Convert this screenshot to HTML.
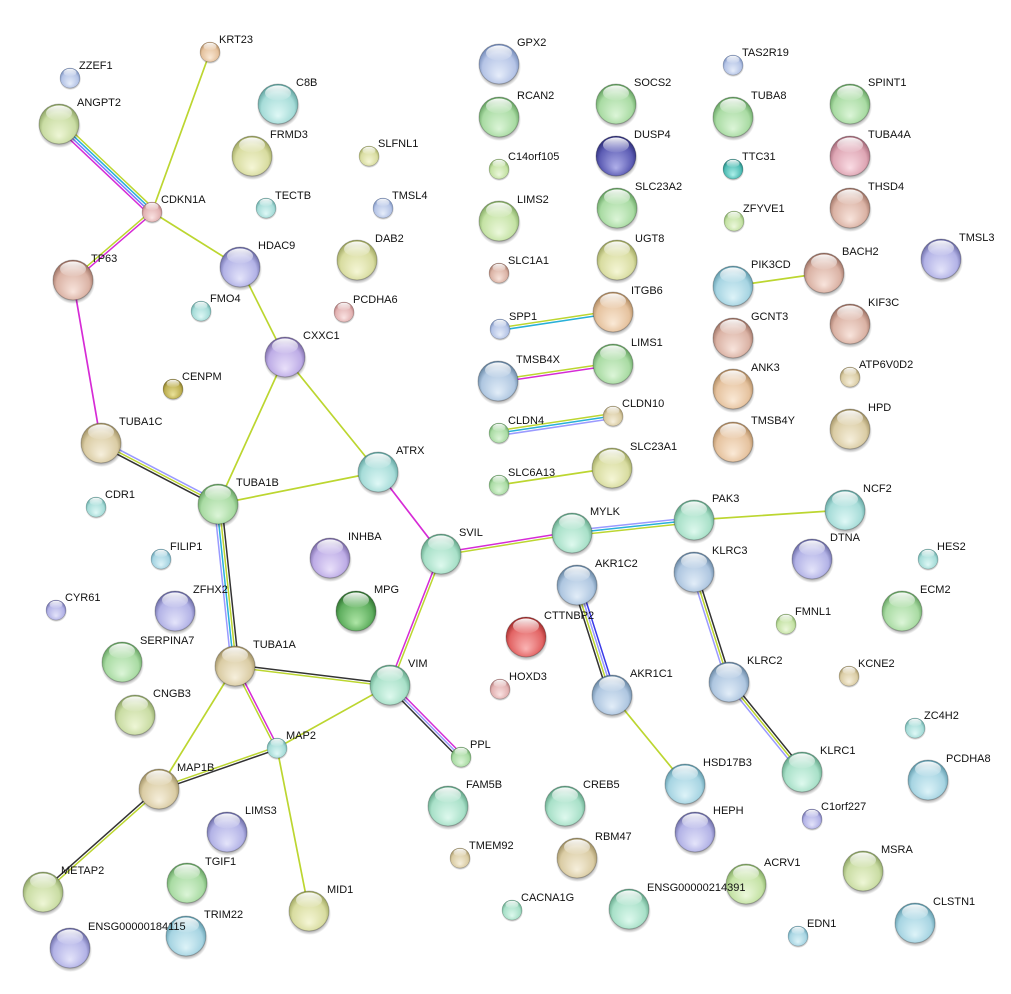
<!DOCTYPE html>
<html><head><meta charset="utf-8"><style>
html,body{margin:0;padding:0;background:#fff;}
svg{display:block;}
text{font-family:"Liberation Sans",Arial,sans-serif;font-size:11px;fill:#111;}
</style></head><body>
<svg width="1011" height="994" viewBox="0 0 1011 994" xmlns="http://www.w3.org/2000/svg">
<defs>
<radialGradient id="sh" cx="50%" cy="50%" r="50%"><stop offset="0.8" stop-color="#000" stop-opacity="0.35"/><stop offset="1" stop-color="#000" stop-opacity="0"/></radialGradient>
<linearGradient id="hl" x1="0" y1="0" x2="0" y2="1"><stop offset="0" stop-color="#fff" stop-opacity="0.95"/><stop offset="1" stop-color="#fff" stop-opacity="0.05"/></linearGradient>
<radialGradient id="G" cx="50%" cy="55%" r="55%" fx="50%" fy="80%"><stop offset="0" stop-color="#dcf5d8"/><stop offset="0.75" stop-color="#a9dba3"/><stop offset="1" stop-color="#5e9c5a"/></radialGradient>
<radialGradient id="OL" cx="50%" cy="55%" r="55%" fx="50%" fy="80%"><stop offset="0" stop-color="#eef6d6"/><stop offset="0.75" stop-color="#c9dca3"/><stop offset="1" stop-color="#879e5e"/></radialGradient>
<radialGradient id="TE" cx="50%" cy="55%" r="55%" fx="50%" fy="80%"><stop offset="0" stop-color="#dff8f6"/><stop offset="0.75" stop-color="#a6dcd8"/><stop offset="1" stop-color="#5a9e9a"/></radialGradient>
<radialGradient id="Y" cx="50%" cy="55%" r="55%" fx="50%" fy="80%"><stop offset="0" stop-color="#f5f6d6"/><stop offset="0.75" stop-color="#d8dca0"/><stop offset="1" stop-color="#98a058"/></radialGradient>
<radialGradient id="PK" cx="50%" cy="55%" r="55%" fx="50%" fy="80%"><stop offset="0" stop-color="#fae3e3"/><stop offset="0.75" stop-color="#e2b2b2"/><stop offset="1" stop-color="#a87070"/></radialGradient>
<radialGradient id="PE" cx="50%" cy="55%" r="55%" fx="50%" fy="80%"><stop offset="0" stop-color="#fae9d6"/><stop offset="0.75" stop-color="#e5c29e"/><stop offset="1" stop-color="#aa845a"/></radialGradient>
<radialGradient id="B" cx="50%" cy="55%" r="55%" fx="50%" fy="80%"><stop offset="0" stop-color="#e6edfa"/><stop offset="0.75" stop-color="#b5c4e6"/><stop offset="1" stop-color="#6c84b4"/></radialGradient>
<radialGradient id="PB" cx="50%" cy="55%" r="55%" fx="50%" fy="80%"><stop offset="0" stop-color="#e4e4fa"/><stop offset="0.75" stop-color="#b2b2e6"/><stop offset="1" stop-color="#62629e"/></radialGradient>
<radialGradient id="PU" cx="50%" cy="55%" r="55%" fx="50%" fy="80%"><stop offset="0" stop-color="#e9e0fa"/><stop offset="0.75" stop-color="#bdace6"/><stop offset="1" stop-color="#72629e"/></radialGradient>
<radialGradient id="BR" cx="50%" cy="55%" r="55%" fx="50%" fy="80%"><stop offset="0" stop-color="#f8e4dc"/><stop offset="0.75" stop-color="#dab2a4"/><stop offset="1" stop-color="#966a5c"/></radialGradient>
<radialGradient id="TA" cx="50%" cy="55%" r="55%" fx="50%" fy="80%"><stop offset="0" stop-color="#f6efdc"/><stop offset="0.75" stop-color="#dacca4"/><stop offset="1" stop-color="#9a8a5c"/></radialGradient>
<radialGradient id="TG" cx="50%" cy="55%" r="55%" fx="50%" fy="80%"><stop offset="0" stop-color="#def9ee"/><stop offset="0.75" stop-color="#a8e0c8"/><stop offset="1" stop-color="#5a9e80"/></radialGradient>
<radialGradient id="SL" cx="50%" cy="55%" r="55%" fx="50%" fy="80%"><stop offset="0" stop-color="#e2edf8"/><stop offset="0.75" stop-color="#aec6e0"/><stop offset="1" stop-color="#5e7e9c"/></radialGradient>
<radialGradient id="BT" cx="50%" cy="55%" r="55%" fx="50%" fy="80%"><stop offset="0" stop-color="#ddf3f8"/><stop offset="0.75" stop-color="#a6d4e2"/><stop offset="1" stop-color="#5894a6"/></radialGradient>
<radialGradient id="NV" cx="50%" cy="55%" r="55%" fx="50%" fy="80%"><stop offset="0" stop-color="#b0b0ea"/><stop offset="0.75" stop-color="#5c5cb4"/><stop offset="1" stop-color="#2a2a74"/></radialGradient>
<radialGradient id="DO" cx="50%" cy="55%" r="55%" fx="50%" fy="80%"><stop offset="0" stop-color="#eae29a"/><stop offset="0.75" stop-color="#bcae50"/><stop offset="1" stop-color="#7a6c22"/></radialGradient>
<radialGradient id="DG" cx="50%" cy="55%" r="55%" fx="50%" fy="80%"><stop offset="0" stop-color="#aee6a6"/><stop offset="0.75" stop-color="#5eae5e"/><stop offset="1" stop-color="#2a6a2a"/></radialGradient>
<radialGradient id="RD" cx="50%" cy="55%" r="55%" fx="50%" fy="80%"><stop offset="0" stop-color="#fab4b4"/><stop offset="0.75" stop-color="#e26464"/><stop offset="1" stop-color="#9e2828"/></radialGradient>
<radialGradient id="DT" cx="50%" cy="55%" r="55%" fx="50%" fy="80%"><stop offset="0" stop-color="#aef0ea"/><stop offset="0.75" stop-color="#4fbcb4"/><stop offset="1" stop-color="#1e7a74"/></radialGradient>
<radialGradient id="TU" cx="50%" cy="55%" r="55%" fx="50%" fy="80%"><stop offset="0" stop-color="#fadce4"/><stop offset="0.75" stop-color="#dea6b4"/><stop offset="1" stop-color="#9e6272"/></radialGradient>
<radialGradient id="YG" cx="50%" cy="55%" r="55%" fx="50%" fy="80%"><stop offset="0" stop-color="#ecf8dc"/><stop offset="0.75" stop-color="#c4e2a4"/><stop offset="1" stop-color="#7ca45c"/></radialGradient>
<g id="b"><ellipse cx="0.5" cy="3" rx="21.5" ry="21" fill="url(#sh)"/><circle r="20" stroke="rgba(0,0,0,0.22)" stroke-width="1"/><ellipse cx="0" cy="-11" rx="13" ry="7.5" fill="url(#hl)"/></g>
</defs>

<g fill="none" stroke-width="1.7" stroke-linecap="round">
<g stroke="#bcd630">
<line x1="210" y1="52" x2="152" y2="212"/>
<line x1="152" y1="212" x2="240" y2="267"/>
<line x1="240" y1="267" x2="285" y2="357"/>
<line x1="285" y1="357" x2="218" y2="504"/>
<line x1="285" y1="357" x2="378" y2="472"/>
<line x1="218" y1="504" x2="378" y2="472"/>
<line x1="694" y1="520" x2="845" y2="510"/>
<line x1="235" y1="666" x2="159" y2="789"/>
<line x1="390" y1="685" x2="277" y2="748"/>
<line x1="277" y1="748" x2="309" y2="911"/>
<line x1="499" y1="485" x2="612" y2="468"/>
<line x1="733" y1="286" x2="824" y2="273"/>
<line x1="612" y1="695" x2="685" y2="784"/>
</g>
<line x1="73" y1="280" x2="101" y2="443" stroke="#d62bd6"/>
<line x1="378" y1="472" x2="441" y2="554" stroke="#d62bd6"/>
</g>
<g fill="none" stroke-width="1.5" stroke-linecap="round">
<!-- ANGPT2-CDKN1A -->
<line x1="56.42" y1="126.73" x2="149.42" y2="214.73" stroke="#d62bd6"/>
<line x1="58.14" y1="124.91" x2="151.14" y2="212.91" stroke="#7a7aff"/>
<line x1="59.86" y1="123.09" x2="152.86" y2="211.09" stroke="#28b0d8"/>
<line x1="61.58" y1="121.27" x2="154.58" y2="209.27" stroke="#bcd630"/>
<!-- TP63-CDKN1A -->
<line x1="73.82" y1="280.95" x2="152.82" y2="212.95" stroke="#d62bd6"/>
<line x1="72.18" y1="279.05" x2="151.18" y2="211.05" stroke="#bcd630"/>
<!-- TUBA1C-TUBA1B -->
<line x1="99.84" y1="445.22" x2="216.84" y2="506.22" stroke="#333"/>
<line x1="101" y1="443" x2="218" y2="504" stroke="#bcd630"/>
<line x1="102.16" y1="440.78" x2="219.16" y2="501.78" stroke="#9a9aff"/>
<!-- TUBA1B-TUBA1A -->
<line x1="214.27" y1="504.39" x2="231.27" y2="666.39" stroke="#9a9aff"/>
<line x1="216.76" y1="504.13" x2="233.76" y2="666.13" stroke="#28b0d8"/>
<line x1="219.24" y1="503.87" x2="236.24" y2="665.87" stroke="#bcd630"/>
<line x1="221.73" y1="503.61" x2="238.73" y2="665.61" stroke="#333"/>
<!-- SVIL-MYLK -->
<line x1="441.2" y1="555.23" x2="572.2" y2="534.23" stroke="#bcd630"/>
<line x1="440.8" y1="552.77" x2="571.8" y2="531.77" stroke="#d62bd6"/>
<!-- MYLK-PAK3 -->
<line x1="572.27" y1="535.49" x2="694.27" y2="522.49" stroke="#bcd630"/>
<line x1="572" y1="533" x2="694" y2="520" stroke="#28b0d8"/>
<line x1="571.73" y1="530.51" x2="693.73" y2="517.51" stroke="#9a9aff"/>
<!-- SVIL-VIM -->
<line x1="439.83" y1="553.55" x2="388.83" y2="684.55" stroke="#d62bd6"/>
<line x1="442.17" y1="554.45" x2="391.17" y2="685.45" stroke="#bcd630"/>
<!-- TUBA1A-VIM -->
<line x1="234.85" y1="667.24" x2="389.85" y2="686.24" stroke="#bcd630"/>
<line x1="235.15" y1="664.76" x2="390.15" y2="683.76" stroke="#333"/>
<!-- VIM-PPL -->
<line x1="388.22" y1="686.76" x2="459.22" y2="758.76" stroke="#333"/>
<line x1="390" y1="685" x2="461" y2="757" stroke="#9a9aff"/>
<line x1="391.78" y1="683.24" x2="462.78" y2="755.24" stroke="#d62bd6"/>
<!-- TUBA1A-MAP2 -->
<line x1="233.89" y1="666.57" x2="275.89" y2="748.57" stroke="#bcd630"/>
<line x1="236.11" y1="665.43" x2="278.11" y2="747.43" stroke="#d62bd6"/>
<!-- MAP2-MAP1B -->
<line x1="276.59" y1="746.82" x2="158.59" y2="787.82" stroke="#bcd630"/>
<line x1="277.41" y1="749.18" x2="159.41" y2="790.18" stroke="#333"/>
<!-- MAP1B-METAP2 -->
<line x1="158.17" y1="788.06" x2="42.17" y2="891.06" stroke="#333"/>
<line x1="159.83" y1="789.94" x2="43.83" y2="892.94" stroke="#bcd630"/>
<!-- SPP1-ITGB6 -->
<line x1="500.19" y1="330.24" x2="613.19" y2="313.24" stroke="#28b0d8"/>
<line x1="499.81" y1="327.76" x2="612.81" y2="310.76" stroke="#bcd630"/>
<!-- TMSB4X-LIMS1 -->
<line x1="498.18" y1="382.24" x2="613.18" y2="365.24" stroke="#d62bd6"/>
<line x1="497.82" y1="379.76" x2="612.82" y2="362.76" stroke="#bcd630"/>
<!-- CLDN4-CLDN10 -->
<line x1="499.37" y1="435.47" x2="613.37" y2="418.47" stroke="#9a9aff"/>
<line x1="499" y1="433" x2="613" y2="416" stroke="#28b0d8"/>
<line x1="498.63" y1="430.53" x2="612.63" y2="413.53" stroke="#bcd630"/>
<!-- AKR1C2-AKR1C1 -->
<line x1="573.43" y1="586.14" x2="608.43" y2="696.14" stroke="#333"/>
<line x1="575.81" y1="585.38" x2="610.81" y2="695.38" stroke="#bcd630"/>
<line x1="578.19" y1="584.62" x2="613.19" y2="694.62" stroke="#9a9aff"/>
<line x1="580.57" y1="583.86" x2="615.57" y2="693.86" stroke="#3a3ae8"/>
<!-- KLRC3-KLRC2 -->
<line x1="691.62" y1="572.76" x2="726.62" y2="682.76" stroke="#9a9aff"/>
<line x1="694" y1="572" x2="729" y2="682" stroke="#bcd630"/>
<line x1="696.38" y1="571.24" x2="731.38" y2="681.24" stroke="#333"/>
<!-- KLRC2-KLRC1 -->
<line x1="727.06" y1="683.58" x2="800.06" y2="773.58" stroke="#9a9aff"/>
<line x1="729" y1="682" x2="802" y2="772" stroke="#bcd630"/>
<line x1="730.94" y1="680.42" x2="803.94" y2="770.42" stroke="#333"/>
</g>

<g>
<use href="#b" fill="url(#PE)" transform="translate(210,52) scale(.5)"/>
<use href="#b" fill="url(#B)" transform="translate(70,78) scale(.5)"/>
<use href="#b" fill="url(#OL)" transform="translate(59,124)"/>
<use href="#b" fill="url(#TE)" transform="translate(278,104)"/>
<use href="#b" fill="url(#Y)" transform="translate(252,156)"/>
<use href="#b" fill="url(#Y)" transform="translate(369,156) scale(.5)"/>
<use href="#b" fill="url(#PK)" transform="translate(152,212) scale(.5)"/>
<use href="#b" fill="url(#TE)" transform="translate(266,208) scale(.5)"/>
<use href="#b" fill="url(#B)" transform="translate(383,208) scale(.5)"/>
<use href="#b" fill="url(#PB)" transform="translate(240,267)"/>
<use href="#b" fill="url(#Y)" transform="translate(357,260)"/>
<use href="#b" fill="url(#BR)" transform="translate(73,280)"/>
<use href="#b" fill="url(#TE)" transform="translate(201,311) scale(.5)"/>
<use href="#b" fill="url(#PK)" transform="translate(344,312) scale(.5)"/>
<use href="#b" fill="url(#PU)" transform="translate(285,357)"/>
<use href="#b" fill="url(#DO)" transform="translate(173,389) scale(.5)"/>
<use href="#b" fill="url(#TA)" transform="translate(101,443)"/>
<use href="#b" fill="url(#TE)" transform="translate(378,472)"/>
<use href="#b" fill="url(#G)" transform="translate(218,504)"/>
<use href="#b" fill="url(#TE)" transform="translate(96,507) scale(.5)"/>
<use href="#b" fill="url(#PU)" transform="translate(330,558)"/>
<use href="#b" fill="url(#TG)" transform="translate(441,554)"/>
<use href="#b" fill="url(#BT)" transform="translate(161,559) scale(.5)"/>
<use href="#b" fill="url(#PB)" transform="translate(175,611)"/>
<use href="#b" fill="url(#PB)" transform="translate(56,610) scale(.5)"/>
<use href="#b" fill="url(#DG)" transform="translate(356,611)"/>
<use href="#b" fill="url(#G)" transform="translate(122,662)"/>
<use href="#b" fill="url(#TA)" transform="translate(235,666)"/>
<use href="#b" fill="url(#TG)" transform="translate(390,685)"/>
<use href="#b" fill="url(#OL)" transform="translate(135,715)"/>
<use href="#b" fill="url(#TE)" transform="translate(277,748) scale(.5)"/>
<use href="#b" fill="url(#G)" transform="translate(461,757) scale(.5)"/>
<use href="#b" fill="url(#TA)" transform="translate(159,789)"/>
<use href="#b" fill="url(#PB)" transform="translate(227,832)"/>
<use href="#b" fill="url(#TG)" transform="translate(448,806)"/>
<use href="#b" fill="url(#TA)" transform="translate(460,858) scale(.5)"/>
<use href="#b" fill="url(#OL)" transform="translate(43,892)"/>
<use href="#b" fill="url(#G)" transform="translate(187,883)"/>
<use href="#b" fill="url(#Y)" transform="translate(309,911)"/>
<use href="#b" fill="url(#BT)" transform="translate(186,936)"/>
<use href="#b" fill="url(#PB)" transform="translate(70,948)"/>
<use href="#b" fill="url(#TG)" transform="translate(512,910) scale(.5)"/>
<use href="#b" fill="url(#B)" transform="translate(499,64)"/>
<use href="#b" fill="url(#G)" transform="translate(499,117)"/>
<use href="#b" fill="url(#YG)" transform="translate(499,169) scale(.5)"/>
<use href="#b" fill="url(#YG)" transform="translate(499,221)"/>
<use href="#b" fill="url(#BR)" transform="translate(499,273) scale(.5)"/>
<use href="#b" fill="url(#B)" transform="translate(500,329) scale(.5)"/>
<use href="#b" fill="url(#SL)" transform="translate(498,381)"/>
<use href="#b" fill="url(#G)" transform="translate(499,433) scale(.5)"/>
<use href="#b" fill="url(#G)" transform="translate(499,485) scale(.5)"/>
<use href="#b" fill="url(#G)" transform="translate(616,104)"/>
<use href="#b" fill="url(#NV)" transform="translate(616,156)"/>
<use href="#b" fill="url(#G)" transform="translate(617,208)"/>
<use href="#b" fill="url(#Y)" transform="translate(617,260)"/>
<use href="#b" fill="url(#PE)" transform="translate(613,312)"/>
<use href="#b" fill="url(#G)" transform="translate(613,364)"/>
<use href="#b" fill="url(#TA)" transform="translate(613,416) scale(.5)"/>
<use href="#b" fill="url(#Y)" transform="translate(612,468)"/>
<use href="#b" fill="url(#TG)" transform="translate(572,533)"/>
<use href="#b" fill="url(#SL)" transform="translate(577,585)"/>
<use href="#b" fill="url(#RD)" transform="translate(526,637)"/>
<use href="#b" fill="url(#PK)" transform="translate(500,689) scale(.5)"/>
<use href="#b" fill="url(#SL)" transform="translate(612,695)"/>
<use href="#b" fill="url(#TG)" transform="translate(565,806)"/>
<use href="#b" fill="url(#TA)" transform="translate(577,858)"/>
<use href="#b" fill="url(#TG)" transform="translate(629,909)"/>
<use href="#b" fill="url(#B)" transform="translate(733,65) scale(.5)"/>
<use href="#b" fill="url(#G)" transform="translate(733,117)"/>
<use href="#b" fill="url(#DT)" transform="translate(733,169) scale(.5)"/>
<use href="#b" fill="url(#YG)" transform="translate(734,221) scale(.5)"/>
<use href="#b" fill="url(#BT)" transform="translate(733,286)"/>
<use href="#b" fill="url(#BR)" transform="translate(733,338)"/>
<use href="#b" fill="url(#PE)" transform="translate(733,389)"/>
<use href="#b" fill="url(#PE)" transform="translate(733,442)"/>
<use href="#b" fill="url(#TG)" transform="translate(694,520)"/>
<use href="#b" fill="url(#SL)" transform="translate(694,572)"/>
<use href="#b" fill="url(#YG)" transform="translate(786,624) scale(.5)"/>
<use href="#b" fill="url(#BT)" transform="translate(685,784)"/>
<use href="#b" fill="url(#PB)" transform="translate(695,832)"/>
<use href="#b" fill="url(#SL)" transform="translate(729,682)"/>
<use href="#b" fill="url(#TG)" transform="translate(802,772)"/>
<use href="#b" fill="url(#PB)" transform="translate(812,819) scale(.5)"/>
<use href="#b" fill="url(#YG)" transform="translate(746,884)"/>
<use href="#b" fill="url(#BT)" transform="translate(798,936) scale(.5)"/>
<use href="#b" fill="url(#G)" transform="translate(850,104)"/>
<use href="#b" fill="url(#TU)" transform="translate(850,156)"/>
<use href="#b" fill="url(#BR)" transform="translate(850,208)"/>
<use href="#b" fill="url(#BR)" transform="translate(824,273)"/>
<use href="#b" fill="url(#BR)" transform="translate(850,324)"/>
<use href="#b" fill="url(#TA)" transform="translate(850,377) scale(.5)"/>
<use href="#b" fill="url(#TA)" transform="translate(850,429)"/>
<use href="#b" fill="url(#TE)" transform="translate(845,510)"/>
<use href="#b" fill="url(#PB)" transform="translate(812,559)"/>
<use href="#b" fill="url(#TE)" transform="translate(928,559) scale(.5)"/>
<use href="#b" fill="url(#G)" transform="translate(902,611)"/>
<use href="#b" fill="url(#TA)" transform="translate(849,676) scale(.5)"/>
<use href="#b" fill="url(#TE)" transform="translate(915,728) scale(.5)"/>
<use href="#b" fill="url(#BT)" transform="translate(928,780)"/>
<use href="#b" fill="url(#OL)" transform="translate(863,871)"/>
<use href="#b" fill="url(#BT)" transform="translate(915,923)"/>
<use href="#b" fill="url(#PB)" transform="translate(941,259)"/>
</g>

<g>
<text x="219" y="43">KRT23</text>
<text x="79" y="69">ZZEF1</text>
<text x="77" y="106">ANGPT2</text>
<text x="296" y="86">C8B</text>
<text x="270" y="138">FRMD3</text>
<text x="378" y="147">SLFNL1</text>
<text x="161" y="203">CDKN1A</text>
<text x="275" y="199">TECTB</text>
<text x="392" y="199">TMSL4</text>
<text x="258" y="249">HDAC9</text>
<text x="375" y="242">DAB2</text>
<text x="91" y="262">TP63</text>
<text x="210" y="302">FMO4</text>
<text x="353" y="303">PCDHA6</text>
<text x="303" y="339">CXXC1</text>
<text x="182" y="380">CENPM</text>
<text x="119" y="425">TUBA1C</text>
<text x="396" y="454">ATRX</text>
<text x="236" y="486">TUBA1B</text>
<text x="105" y="498">CDR1</text>
<text x="348" y="540">INHBA</text>
<text x="459" y="536">SVIL</text>
<text x="170" y="550">FILIP1</text>
<text x="193" y="593">ZFHX2</text>
<text x="65" y="601">CYR61</text>
<text x="374" y="593">MPG</text>
<text x="140" y="644">SERPINA7</text>
<text x="253" y="648">TUBA1A</text>
<text x="408" y="667">VIM</text>
<text x="153" y="697">CNGB3</text>
<text x="286" y="739">MAP2</text>
<text x="470" y="748">PPL</text>
<text x="177" y="771">MAP1B</text>
<text x="245" y="814">LIMS3</text>
<text x="466" y="788">FAM5B</text>
<text x="469" y="849">TMEM92</text>
<text x="61" y="874">METAP2</text>
<text x="205" y="865">TGIF1</text>
<text x="327" y="893">MID1</text>
<text x="204" y="918">TRIM22</text>
<text x="88" y="930">ENSG00000184115</text>
<text x="521" y="901">CACNA1G</text>
<text x="517" y="46">GPX2</text>
<text x="517" y="99">RCAN2</text>
<text x="508" y="160">C14orf105</text>
<text x="517" y="203">LIMS2</text>
<text x="508" y="264">SLC1A1</text>
<text x="509" y="320">SPP1</text>
<text x="516" y="363">TMSB4X</text>
<text x="508" y="424">CLDN4</text>
<text x="508" y="476">SLC6A13</text>
<text x="634" y="86">SOCS2</text>
<text x="634" y="138">DUSP4</text>
<text x="635" y="190">SLC23A2</text>
<text x="635" y="242">UGT8</text>
<text x="631" y="294">ITGB6</text>
<text x="631" y="346">LIMS1</text>
<text x="622" y="407">CLDN10</text>
<text x="630" y="450">SLC23A1</text>
<text x="590" y="515">MYLK</text>
<text x="595" y="567">AKR1C2</text>
<text x="544" y="619">CTTNBP2</text>
<text x="509" y="680">HOXD3</text>
<text x="630" y="677">AKR1C1</text>
<text x="583" y="788">CREB5</text>
<text x="595" y="840">RBM47</text>
<text x="647" y="891">ENSG00000214391</text>
<text x="742" y="56">TAS2R19</text>
<text x="751" y="99">TUBA8</text>
<text x="742" y="160">TTC31</text>
<text x="743" y="212">ZFYVE1</text>
<text x="751" y="268">PIK3CD</text>
<text x="751" y="320">GCNT3</text>
<text x="751" y="371">ANK3</text>
<text x="751" y="424">TMSB4Y</text>
<text x="712" y="502">PAK3</text>
<text x="712" y="554">KLRC3</text>
<text x="795" y="615">FMNL1</text>
<text x="703" y="766">HSD17B3</text>
<text x="713" y="814">HEPH</text>
<text x="747" y="664">KLRC2</text>
<text x="820" y="754">KLRC1</text>
<text x="821" y="810">C1orf227</text>
<text x="764" y="866">ACRV1</text>
<text x="807" y="927">EDN1</text>
<text x="868" y="86">SPINT1</text>
<text x="868" y="138">TUBA4A</text>
<text x="868" y="190">THSD4</text>
<text x="842" y="255">BACH2</text>
<text x="868" y="306">KIF3C</text>
<text x="859" y="368">ATP6V0D2</text>
<text x="868" y="411">HPD</text>
<text x="863" y="492">NCF2</text>
<text x="830" y="541">DTNA</text>
<text x="937" y="550">HES2</text>
<text x="920" y="593">ECM2</text>
<text x="858" y="667">KCNE2</text>
<text x="924" y="719">ZC4H2</text>
<text x="946" y="762">PCDHA8</text>
<text x="881" y="853">MSRA</text>
<text x="933" y="905">CLSTN1</text>
<text x="959" y="241">TMSL3</text>
</g>
</svg>
</body></html>
